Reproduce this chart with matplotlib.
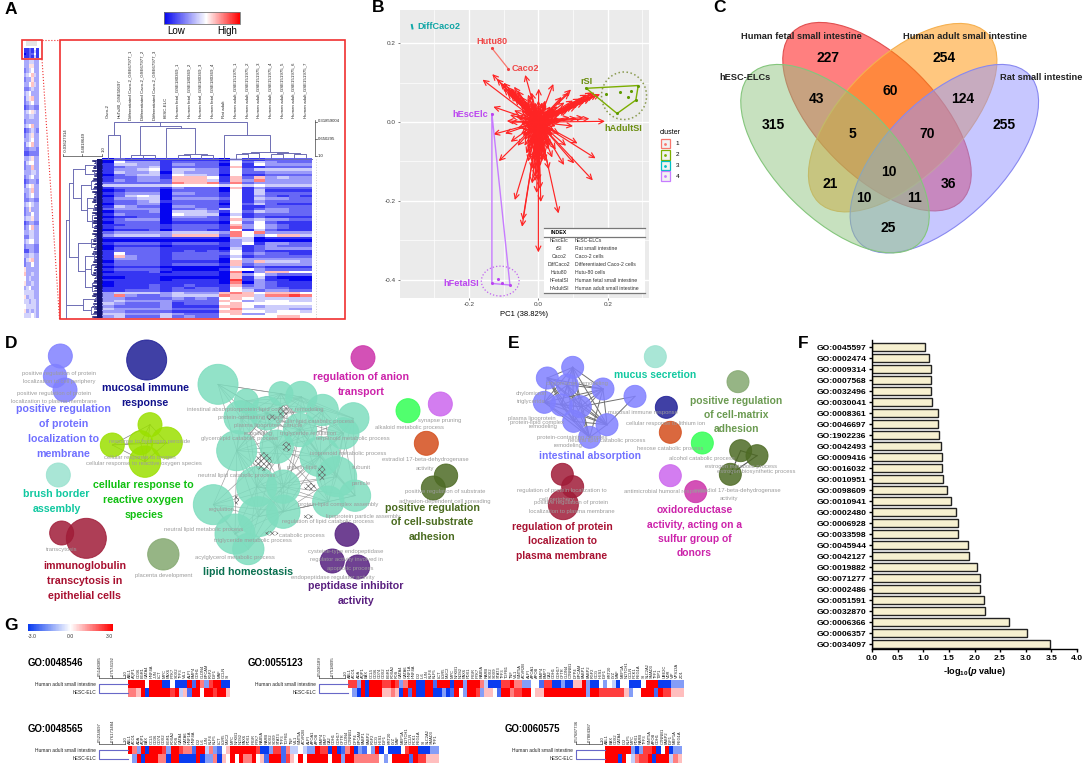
import itertools
import numpy as np
import matplotlib
matplotlib.use("Agg")
import matplotlib.pyplot as plt
from matplotlib.colors import LinearSegmentedColormap
from matplotlib.patches import Ellipse, Circle, Rectangle

plt.rcParams["font.family"] = ["Liberation Sans", "DejaVu Sans"]
plt.rcParams["mathtext.fontset"] = "custom"
plt.rcParams["mathtext.bf"] = "Liberation Sans:bold"
plt.rcParams["mathtext.it"] = "Liberation Sans:italic:bold"
plt.rcParams["hatch.linewidth"] = 0.45

# ------------------------------------------------ DATA
# Panel A: groups are CHDDD E FFFF R A A A AAAA ; 0 = low (blue), 5 = white, 9 = high (red)
a_columns = ["Caco-2", "HuTu80_GSE50697", "Differentiated Caco-2_GSE67977_1", "Differentiated Caco-2_GSE67977_2",
             "Differentiated Caco-2_GSE67977_3", "hESC-ELC", "Human fetal_GSE180369_1", "Human fetal_GSE180369_2",
             "Human fetal_GSE180369_3", "Human fetal_GSE180369_4", "Rat adult", "Human adult_GSE151975_1",
             "Human adult_GSE151975_2", "Human adult_GSE151975_3", "Human adult_GSE151975_4",
             "Human adult_GSE151975_5", "Human adult_GSE151975_6", "Human adult_GSE151975_7"]
a_rows = [
 "02111 1 1111 0 4 1 1 2222", "05333 1 2222 1 5 2 4 3222", "14433 1 3322 0 5 1 5 3333", "12334 1 2222 1 6 1 1 2222",
 "13345 1 4433 1 5 2 4 4444", "14334 0 4333 1 5 2 2 3333", "02344 1 5443 0 5 1 1 2222", "12233 1 6665 1 6 2 6 3433",
 "13233 2 6664 1 6 3 7 3333", "22222 2 7667 2 7 2 3 3333", "44444 4 5555 4 5 4 5 4444", "12222 1 3222 0 6 1 3 2222",
 "01222 0 2222 0 5 1 4 1111", "12333 0 3322 1 5 1 4 2222", "02454 0 2222 1 5 1 3 2121", "13344 0 3333 2 5 1 4 3322",
 "12234 1 2222 1 5 1 3 2222", "02233 0 2222 0 5 2 4 2111", "14322 0 3322 1 5 1 1 2222", "23333 0 2232 4 5 1 2 3322",
 "02223 0 4443 1 5 2 4 3322", "13222 0 5444 0 4 1 2 2222", "01122 0 3332 1 5 1 2 1111", "12333 0 2222 1 6 3 4 3322",
 "02222 0 1111 0 5 2 5 2111", "11222 1 2222 1 6 3 5 3211", "12222 1 2222 1 7 3 5 3211", "01112 0 2221 1 5 1 4 2111",
 "23333 3 4444 3 7 5 7 3333", "34444 3 6666 2 7 5 3 5664", "11111 1 1111 0 4 4 0 1111", "00000 0 0000 0 3 4 0 0000",
 "12222 1 2222 1 3 5 1 3322", "01111 0 1111 1 3 1 2 3222", "02222 1 1111 0 4 1 2 3333", "12222 1 1212 1 5 1 2 1111",
 "15222 1 2222 2 5 2 3 2211", "16322 1 2222 1 4 1 2 2222", "13322 1 2222 0 5 3 3 3333", "02222 1 1111 0 6 3 6 4443",
 "12222 1 2222 1 6 2 3 3333", "01111 0 0000 0 4 1 2 1111", "12222 1 0000 1 5 5 3 2222", "01112 0 1111 0 7 0 3 6655",
 "11111 1 1111 0 6 3 5 3222", "00111 0 0000 0 6 1 4 1000", "11111 0 1111 0 8 1 3 1100", "01111 1 1111 0 7 0 3 2111",
 "01112 1 1211 1 6 2 3 2111", "11112 1 2122 1 5 3 3 2211", "11222 1 2222 1 5 4 2 3322", "34444 3 4333 6 7 6 5 6665",
 "37322 3 4444 7 6 6 4 7787", "33222 2 3232 5 6 5 4 4444", "34333 3 2222 6 5 3 4 5544", "43222 3 1222 5 6 5 5 5555",
 "32222 3 1111 6 6 5 3 4444", "43333 3 2222 5 7 4 4 4433", "33222 2 1111 6 6 5 5 4554", "44333 4 3222 5 6 3 3 5555",
 "34222 4 2322 5 5 5 5 5665"]
a_thumb_top = ["112151", "112141", "012251", "112141"]
a_thumb = [
 "334433", "336633", "234533", "345743", "233633", "335743", "223433", "345333", "246733", "234533", "123322", "345643",
 "334433", "233333", "345733", "123432", "234633", "334533", "245733", "223332", "112222", "334633", "245533", "233733",
 "333443", "234533", "123332", "245633", "334733", "234533", "223322", "345433", "236333", "233533", "344633", "123322",
 "235733", "334433", "224433", "345533", "233322", "113322", "334433", "246733", "233533", "633333", "733433", "534333",
 "633433", "345333", "444433", "634433", "443443", "544443", "634343", "444543"]
a_top_merges = [(0, 1, 0.577), (3, 4, 0.985), (2, 19, 0.975), (6, 7, 0.985), (8, 9, 0.985), (21, 22, 0.96),
                (5, 23, 0.45), (20, 24, 0.404), (18, 25, 0.33), (11, 12, 0.955), (14, 15, 0.96), (16, 17, 0.97),
                (27, 13, 0.945), (28, 29, 0.945), (30, 31, 0.925), (10, 32, 0.589), (26, 33, 0.32)]
a_row_tree = (0.04,
    (0.13,
        (0.22,
            (0.55, (0.85, 0, 1, 2, 3), (0.8, 4, 5, 6)),
            (0.45, (0.7, (0.88, 7, 8, 9), (0.88, 10, 11, 12)),
                   (0.6, (0.85, 13, 14, 15, 16), (0.8, 17, 18, 19),
                    (0.75, (0.88, 20, 21, 22), (0.9, 23, 24, 25, 26, 27, 28))))),
        (0.35,
            (0.7, (0.85, 29, 30, 31), (0.85, 32, 33, 34)),
            (0.55, (0.8, 35, 36, 37, 38), (0.7, (0.88, 39, 40, 41), (0.85, 42, 43, 44, 45)),
                   (0.75, (0.88, 46, 47, 48), (0.9, 49, 50, 51))))),
    (0.5, (0.85, 52, 53, 54), (0.7, (0.8, 55, 56, 57), (0.88, 58, 59, 60))))

# Panel B
b_load_pc1 = [-.133, -.161, -.130, -.038, .001, .043, .094, .089, .067, .178, .162, .149, .130, .101, .147, .192, .165,
              .157, .103, .074, .113, .058, .007, .000, -.047, -.045, -.068, -.018, -.010, -.114, -.130, -.096, -.091,
              -.082, -.105, -.090, -.075, -.068, -.100, -.05, -.03, .020, .035, .055, .075, .11, .08, .06, .09, .07,
              .10, .06, .08, .05, .04, .03, .02, -.03, -.02, -.035, -.06, -.08, -.05, -.08, -.065, -.07, -.05, -.06,
              -.05, -.045, -.055, -.05, -.045, -.04, -.03, -.02, -.01, 0, .01, .02, .03, .04, .05, .055, .06, .05, .045,
              .04, .03, .025, .02, .015, .01, 0, -.01, -.015, -.02, -.025, -.03, -.035, -.04, -.03, -.03, -.02, -.01, 0,
              .01, .02, .03, .03, .02, .02, .01, 0, -.01, -.015, -.02, -.02, -.01, .01, .015, .01, 0, -.01, -.005, .005,
              -.008, .012, -.025, .025, .045, -.035, -.04, .035, -.03, .028, .015, -.015,
              -.09, -.085, -.08, -.075, -.07, -.065, -.06, -.055, -.05, -.045, -.04, -.035, -.06, -.07, -.08, -.09, -.1,
              -.11, -.12, -.03, -.02,
              .17, .16, .15, .14, .13, .12, .11, .10, .09, .085, .08, .07, .065, .10, .12, .14, .155, .06, .05, .11, .13,
              -.01, -.005, .0, .005, -.015, -.02, -.025, .01, .015, -.01, .0, .0, .005, -.005, .02, -.03, .03, .035,
              -.04, -.04,
              -.04, -.035, -.03, -.025, -.015, -.005, .005, .015, .025, .035, .04, .035, .03, .025, .015, .005, -.005,
              -.015, -.025, -.03, -.02, -.01, .005, .015, .01, 0, -.012, .02, -.005, .005, -.02, .02, -.045, .045, .05,
              -.05, .04, -.045, .03, -.03]
b_load_pc2 = [.122, .108, .039, .120, .085, .097, .083, .075, .064, .071, .075, .064, .058, .046, .009, .002, -.092,
              -.148, -.105, -.109, -.054, -.232, -.203, -.331, -.266, -.249, -.198, -.156, -.139, -.099, -.031, -.029,
              .003, .018, .095, .085, .070, .060, .100, .065, .06, .055, .040, .040, .050, .050, .035, .025, .012, .005,
              -.01, -.03, -.06, -.07, -.09, -.12, -.10, -.10, -.12, -.08, -.06, -.05, -.03, 0, .015, .03, .04, -.015,
              .03, .02, .01, -.005, -.02, .04, .045, .05, .05, .055, .05, .04, .03, .025, .02, .01, 0, -.01, -.02,
              -.035, -.04, -.05, -.06, -.07, -.08, -.085, -.08, -.07, -.06, -.05, -.04, -.03, -.01, 0, .02, .03, .03, .03,
              .03, .02, .01, -.01, -.02, -.035, -.04, -.05, -.05, -.035, -.02, .01, .015, .015, 0, -.015, -.025, -.02,
              -.065, -.07, -.09, -.095, .038, .028, .01, .012, .03, -.025, -.055, -.06, .045, .042,
              .09, .08, .085, .08, .075, .07, .065, .06, .055, .05, .055, .05, .08, .09, .07, .075, .085, .10, .11, .07,
              .075,
              .07, .068, .06, .06, .05, .05, .04, .04, .035, .03, .03, .03, .025, .055, .06, .07, .075, .02, .03, .01,
              .012,
              -.15, -.13, -.12, -.11, -.12, -.10, -.09, -.10, -.09, -.10, -.095, -.15, -.17, -.18, -.08, -.075, -.07,
              -.06, -.06, -.045,
              0, -.015, .01, .025, .02, .04, .04, .035, .02, .015, 0, -.01, -.02, -.03, -.05, -.055, -.06, -.055, -.03,
              -.02, -.005, .005, .005, -.005, -.025, -.035, -.03, .005, .02, .02, .045, .05, .045, .035, 0, 0, -.03,
              -.035, -.055, -.065]
b_xticks = [-0.2, 0.0, 0.2]
b_yticks = [0.2, 0.0, -0.2, -0.4]
b_samples = {"Hutu80": (-.134, .188), "Caco2": (-.087, .136), "hEscElc": (-.134, .021)}
b_fetal_x = [-.134, -.116, -.104, -.082]
b_fetal_y = [-.410, -.398, -.408, -.414]
b_adult_x = [.138, .195, .236, .266, .258, .288, .281, .227]
b_adult_y = [.086, .072, .076, .078, .064, .093, .056, .022]
b_diff_x = [-.365, -.363]
b_diff_y = [.247, .238]
b_index_short = ["hEscElc", "rSI", "Caco2", "DiffCaco2", "Hutu80", "hFetalSI", "hAdultSI"]
b_index_long = ["hESC-ELCs", "Rat small intestine", "Caco-2 cells", "Differentiated Caco-2 cells", "Hutu-80 cells",
                "Human fetal small intestine", "Human adult small intestine"]
b_clusters = ["1", "2", "3", "4"]

# Panel C
c_counts = ["227", "254", "315", "255", "43", "60", "124", "5", "70", "21", "10", "36", "10", "11", "25"]
c_sets = ["Human fetal small intestine", "Human adult small intestine", "hESC-ELCs", "Rat small intestine"]

# Panel F
f_terms = ["GO:0045597", "GO:0002474", "GO:0009314", "GO:0007568", "GO:0032496", "GO:0030041", "GO:0008361",
           "GO:0046697", "GO:1902236", "GO:0042493", "GO:0009416", "GO:0016032", "GO:0010951", "GO:0098609",
           "GO:0010941", "GO:0002480", "GO:0006928", "GO:0033598", "GO:0045944", "GO:0042127", "GO:0019882",
           "GO:0071277", "GO:0002486", "GO:0051591", "GO:0032870", "GO:0006366", "GO:0006357", "GO:0034097"]
f_values = [1.03, 1.12, 1.15, 1.16, 1.16, 1.175, 1.285, 1.29, 1.305, 1.35, 1.365, 1.365, 1.395, 1.47, 1.545, 1.63,
            1.67, 1.68, 1.875, 1.895, 2.04, 2.10, 2.11, 2.19, 2.21, 2.68, 3.02, 3.47]

# Panel G : 0 = -3 (blue), 4 = 0 (white), 8 = +3 (red)
g_genes = ["ABL1", "ACO1", "ADA", "AQP1", "BAX", "CCL5", "CD36", "CD74", "CDX2", "EGR1", "FOXA2", "FOS", "GATA4", "GATA6",
           "HNF1A", "HNF4A", "ID2", "IL6", "JUN", "KLF4", "KLF5", "LCT", "LGR5", "MUC2", "MYC", "NFKB1", "NOS2", "PAX6",
           "PDX1", "PIGR", "PTK7", "RAB5A", "RARB", "SOX2", "SOX9", "STAT3", "TFF3", "TGFB1", "TNF", "VIL1", "WNT5A",
           "ACVR2B", "ALPI", "APOA1", "APOB", "BMP4", "BMP7", "CA2", "CDH1", "CDH17", "CFTR", "CLDN4", "CTNNB1", "DPP4",
           "EPCAM", "FABP1", "FABP2", "FGF2", "GCG", "HES1", "IGF1", "KRT20", "LYZ", "MAF", "MEP1A", "NOTCH1", "OCLN",
           "PCK1", "REG1A", "SI", "SLC2A2", "SMAD3", "TFF1", "TJP1", "UBE2C", "VDR", "VIP", "VPS13A", "ZO1"]
g_titles = ["GO:0048546", "GO:0055123", "GO:0048565", "GO:0060575"]
g_scale1 = ["0.5148385", "0.5036189", "0.5234697", "0.57687736"]
g_scale2 = ["0.7574192", "0.7518095", "0.76173484", "0.7884387"]
g_adult_1 = "888848880040008186278800"
g_esc_1 = "665808888878351884887885"
g_adult_2 = "772808887787268800881888" + "0882888" + "63" + "000778662244" + "177002005582004243044000488800" + "0222"
g_esc_2 = "420808885565081800880020" + "1842887" + "2554" + "1886778845588888888882887777775244" + "8881877555"
g_adult_3 = "86280888728876618836214588888870027716334" + "32287708016802142804000478800022"
g_esc_3 = "42808886608800008022605484866845188817" + "54848888848828866666642488881877" + "5555"
g_adult_4 = "888888202778048022"
g_esc_4 = "888084367780888365"
g_series = [(g_adult_1, g_esc_1), (g_adult_2[:79], g_esc_2[:79]), (g_adult_3[:73], g_esc_3[:73]), (g_adult_4, g_esc_4)]
g_samples = ["Human adult small intestine", "hESC-ELC"]

# ------------------------------------------------ FIGURE
fig = plt.figure(figsize=(10.84, 7.64), dpi=100)
ax = fig.add_axes([0, 0, 1, 1], zorder=0)
ax.set_xlim(0, 1084)
ax.set_ylim(764, 0)
ax.axis("off")


def label(x, y, s, size=6, weight="normal", color="black", ha="center", va="center", rot=0, z=20):
    ax.text(x, y, s, fontsize=size, fontweight=weight, color=color, ha=ha, va=va, rotation=rot, zorder=z)


def image(arr, cmap, x0, x1, y0, y1, vmin, vmax, z=2):
    ax.imshow(arr, cmap=cmap, extent=(x0, x1, y1, y0), aspect="auto", interpolation="nearest", vmin=vmin, vmax=vmax,
              zorder=z)
    ax.set_xlim(0, 1084)
    ax.set_ylim(764, 0)


for letter, lx, ly in [("A", 11, 9), ("B", 378, 8), ("C", 719, 8), ("D", 11, 344), ("E", 514, 344), ("F", 803, 344),
                       ("G", 11, 625)]:
    label(lx, ly, letter, size=12.5, weight="bold")

# ------------------------------------------------ A
cmapA = LinearSegmentedColormap.from_list("a", [(0, "#0505F0"), (5 / 9, "#FFFFFF"), (1, "#FF0000")])
cmapT = LinearSegmentedColormap.from_list("t", [(0, "#2A2AF5"), (5 / 9, "#FFFFFF"), (1, "#FF8A8A")])
grid = np.array([[int(ch) for ch in r.replace(" ", "")] for r in a_rows])
hx0, hx1, hy0, hy1 = 102.3, 311.7, 159.3, 318.3
image(grid, cmapA, hx0, hx1, hy0, hy1, 0, 9)
image(np.linspace(0, 9, 200)[None, :], cmapA, 164, 240, 12, 24, 0, 9)
ax.add_patch(Rectangle((164, 12), 76, 12, fill=False, ec="#777777", lw=0.6, zorder=3))
label(176, 31.5, "Low", size=7)
label(227, 31.5, "High", size=7)
image(np.array([[int(c) for c in r] for r in a_thumb_top]), cmapA, 24, 39, 48, 58, 0, 9)
image(np.array([[int(c) for c in r] for r in a_thumb]), cmapT, 24, 39, 59, 318, 0, 9)
ax.add_patch(Rectangle((26, 41), 11, 5, fc="#E4E4E4", ec="none", zorder=2))
ax.add_patch(Rectangle((22.3, 40), 19.5, 19.3, fill=False, ec="#F03030", lw=1.2, zorder=5))
ax.add_patch(Rectangle((59.5, 40), 285.5, 279, fill=False, ec="#F03030", lw=1.2, zorder=5))
ax.plot([42, 59.5], [40, 40], color="#F03030", lw=0.8, ls=":", zorder=4)
ax.plot([42, 59.5], [59.3, 319], color="#F03030", lw=0.8, ls=":", zorder=4)
DENDRO = "#6E6EB4"
col_w = (hx1 - hx0) / 18
cx = [hx0 + (i + 0.5) * col_w for i in range(18)]
top_y = lambda h: 156 - (1 - h) / 0.6814 * 34.3
for i, name in enumerate(a_columns):
    base = 119.5 if name.startswith("Diff") else 117.5
    label(cx[i] - 0.6, base, name, size=3.15, rot=90, va="bottom", color="#222222")
nodes = {i: (cx[i], 1.0) for i in range(18)}
for k, (a, b, h) in enumerate(a_top_merges):
    xa, ha_ = nodes[a]
    xb, hb_ = nodes[b]
    ya = 159.3 if ha_ == 1.0 else top_y(ha_)
    yb = 159.3 if hb_ == 1.0 else top_y(hb_)
    ax.plot([xa, xa, xb, xb], [ya, top_y(h), top_y(h), yb], color=DENDRO, lw=0.7, zorder=3)
    nodes[18 + k] = ((xa + xb) / 2, h)
ax.plot([hx0, hx1], [159, 159], color=DENDRO, lw=0.7, zorder=3)

row_h = (hy1 - hy0) / len(a_rows)
row_x = lambda r: 63.3 + (r + 0.03627914) / 1.03627914 * 38.4


def draw_tree(node):
    r = node[0]
    ys = []
    for child in node[1:]:
        if isinstance(child, tuple):
            y = draw_tree(child)
            ax.plot([row_x(r), row_x(child[0])], [y, y], color=DENDRO, lw=0.7, zorder=3)
        else:
            y = hy0 + (child + 0.5) * row_h
            ax.plot([row_x(r), 94], [y, y], color=DENDRO, lw=0.7, zorder=3)
            ax.plot([92.5 + (child * 7 % 4), hx0], [y, y], color="#10106E", lw=1.1, zorder=3)
        ys.append(y)
    ax.plot([row_x(r)] * 2, [min(ys), max(ys)], color=DENDRO, lw=0.7, zorder=3)
    return (min(ys) + max(ys)) / 2


root_y = draw_tree(a_row_tree)
ax.plot([row_x(a_row_tree[0])] * 2, [root_y, 318], color=DENDRO, lw=0.7, zorder=3)
ax.add_patch(Rectangle((96.5, hy0), 5.8, hy1 - hy0, fc="#10106E", ec="none", zorder=3))
# distance scales
ax.plot([315, 315], [120, 156], color="#444444", lw=0.5)
for yy, s in [(121.5, "0.31859004"), (139, "0.650295"), (156, "1.0")]:
    ax.plot([315, 317], [yy, yy], color="#444444", lw=0.5)
    label(318, yy, s, size=3.1, ha="left", color="#222222")
ax.plot([63.3, 101.7], [156, 156], color="#444444", lw=0.5)
for xx, s in [(63.3, "-0.03627914"), (81.7, "0.4818649"), (101.7, "1.0")]:
    ax.plot([xx, xx], [154, 156], color="#444444", lw=0.5)
    label(xx + 2.4, 152.5, s, size=3.1, rot=90, va="bottom", color="#222222")
ax.plot([316, 316], [159, 318], color="#CCCCCC", lw=0.7, ls=":")

# ------------------------------------------------ B
axb = fig.add_axes([400 / 1084, 1 - 298 / 764, 249 / 1084, 288 / 764], zorder=1)
axb.set_facecolor("#EBEBEB")
axb.set_xlim(-0.399, 0.319)
axb.set_ylim(-0.447, 0.285)
axb.set_xticks(b_xticks)
axb.set_xticklabels(["-0.2", "0.0", "0.2"])
axb.set_yticks(b_yticks)
axb.set_yticklabels(["0.2", "0.0", "-0.2", "-0.4"])
axb.set_xticks([-0.3, -0.1, 0.1, 0.3], minor=True)
axb.set_yticks([0.1, -0.1, -0.3], minor=True)
axb.grid(True, which="major", color="white", lw=1.0)
axb.grid(True, which="minor", color="white", lw=0.5)
axb.tick_params(which="minor", length=0)
axb.tick_params(which="major", labelsize=4.6, length=1.5, width=0.5, colors="#444444", pad=1.5)
for sp in axb.spines.values():
    sp.set_visible(False)
axb.set_axisbelow(True)
axb.set_xlabel("PC1 (38.82%)", fontsize=5.5, labelpad=2.5)
CRED, CGRN, CTEA, CPUR = "#F8766D", "#7CAE00", "#00BFC4", "#C77CFF"
for x, y in zip(b_load_pc1, b_load_pc2):
    axb.annotate("", xy=(x, y), xytext=(0, 0), arrowprops=dict(arrowstyle="->", color="#FF2424", lw=0.85,
                 mutation_scale=9, shrinkA=0, shrinkB=0), zorder=4)
hutu, caco, esc = b_samples["Hutu80"], b_samples["Caco2"], b_samples["hEscElc"]
axb.plot([hutu[0], caco[0]], [hutu[1], caco[1]], color=CRED, lw=0.9, zorder=5)
axb.scatter([hutu[0], caco[0]], [hutu[1], caco[1]], s=5, color="#F04040", lw=0, zorder=6)
axb.plot([esc[0], b_fetal_x[0], b_fetal_x[3], esc[0]], [esc[1], b_fetal_y[0], b_fetal_y[3], esc[1]], color=CPUR, lw=1.0,
         zorder=5)
axb.scatter(b_fetal_x + [esc[0]], b_fetal_y + [esc[1]], s=5, color="#BB44F0", lw=0, zorder=6)
hull = [0, 5, 6, 7, 0]
axb.plot([b_adult_x[i] for i in hull], [b_adult_y[i] for i in hull], color=CGRN, lw=1.0, zorder=5)
axb.scatter(b_adult_x, b_adult_y, s=5, color="#5F9A00", lw=0, zorder=6)
axb.plot(b_diff_x, b_diff_y, color="#10A8A8", lw=1.4, zorder=5)
axb.add_patch(Ellipse((-.110, -.404), .109, .076, fill=False, ec="#C060F0", lw=0.9, ls=":", zorder=5))
axb.add_patch(Ellipse((.247, .067), .130, .121, fill=False, ec="#8A9A50", lw=1.1, ls=":", zorder=5))
for s, x, y, c in [("Hutu80", -.134, .205, "#F04848"), ("Caco2", -.037, .136, "#F04848"), ("DiffCaco2", -.287, .243, "#10A5A5"),
                   ("hEscElc", -.195, .020, "#BB44F0"), ("rSI", .139, .103, "#6B8E10"), ("hAdultSI", .245, -.015, "#6B8E10"),
                   ("hFetalSI", -.224, -.410, "#BB44F0")]:
    axb.text(x, y, s, fontsize=6.6, fontweight="bold", color=c, ha="center", va="center", zorder=7)
# index table
to_x = lambda z: (z - 505) / 1040
to_y = lambda z: (366 - z) / 1180
axb.add_patch(Rectangle((to_x(523), to_y(880)), to_x(825) - to_x(523), to_y(685) - to_y(880), fc="white", ec="none", zorder=7))
for zy in (685, 710, 877):
    axb.plot([to_x(523), to_x(825)], [to_y(zy)] * 2, color="#777777", lw=0.9, zorder=8)
axb.text(to_x(567), to_y(698), "INDEX", fontsize=3.8, fontweight="bold", ha="center", va="center", zorder=9)
for i, (sh, lo) in enumerate(zip(b_index_short, b_index_long)):
    yy = to_y(722 + i * 23.8)
    axb.text(to_x(567), yy, sh, fontsize=3.7, ha="center", va="center", color="#333333", zorder=9)
    axb.text(to_x(615), yy, lo, fontsize=3.7, ha="left", va="center", color="#333333", zorder=9)
# cluster key
label(660, 132, "cluster", size=5, ha="left")
for name, c, yy in zip(b_clusters, [CRED, CGRN, CTEA, CPUR], [143.6, 155, 165.7, 176]):
    ax.add_patch(Rectangle((660.5, yy - 4.8), 9.6, 9.6, fc="#F2F2F2", ec=c, lw=0.9))
    ax.scatter([665.3], [yy], s=4, color=c, lw=0)
    label(675.7, yy, name, size=4.6, ha="left")

# ------------------------------------------------ C
vx = lambda z: 690 + z / 3
vy = lambda z: z / 3
w_long, w_short = 2 * 358 / 3, 2 * 178 / 3
venn = [(561, 350, 45, "#FF0101", "#E05050"), (638, 353, -45, "#FF9101", "#F5B050"),
        (763, 476, -45, "#9191FF", "#8888F0"), (435, 476, 45, "#91C581", "#84C67C")]
for i, (zx, zy, ang, fc, ec) in enumerate(venn):
    ax.add_patch(Ellipse((vx(zx), vy(zy)), w_long, w_short, angle=ang, fc=fc, ec="none", alpha=0.5, zorder=2 + i * 0.1))
    ax.add_patch(Ellipse((vx(zx), vy(zy)), w_long, w_short, angle=ang, fill=False, ec=ec, lw=0.8, zorder=2.05 + i * 0.1))
for s, zx, zy in zip(c_counts, [415, 763, 249, 943, 380, 600, 817, 486, 710, 421, 597, 775, 522, 672, 596],
                     [175, 175, 376, 376, 298, 273, 298, 403, 403, 551, 516, 551, 594, 594, 683]):
    label(vx(zx), vy(zy), s, size=10, weight="bold")
for s, zx, zy in zip(c_sets, [333, 826, 166, 1053], [110, 110, 232, 232]):
    label(vx(zx), vy(zy), s, size=6.7, weight="bold", color="#222222")

# ------------------------------------------------ D / E bubbles
TERM = "#9C9C9C"


def bubbles(ox, oy, items, color, z=5, alpha=0.85):
    for zx, zy, r in items:
        ax.add_patch(Circle((ox + zx / 3, oy + zy / 3), r / 3, fc=color, ec=color, lw=0.7, alpha=alpha, zorder=z))


def edges(ox, oy, items, color, lw, alpha=1.0, z=4, reach=1e9):
    for (a, b) in itertools.combinations(items, 2):
        if np.hypot(a[0] - b[0], a[1] - b[1]) <= reach:
            ax.plot([ox + a[0] / 3, ox + b[0] / 3], [oy + a[1] / 3, oy + b[1] / 3], color=color, lw=lw, alpha=alpha, zorder=z)


def group_label(ox, oy, zx, zys, lines, color, size=7.7):
    for zy, s in zip(zys, lines):
        label(ox + zx / 3, oy + zy / 3, s, size=size, weight="bold", color=color)


def terms(ox, oy, items):
    for zx, zy, s in items:
        label(ox + zx / 3, oy + zy / 3, s, size=4.2, color=TERM, z=15)


d_lipid = [(654, 163, 60), (739, 213, 36), (843, 191, 36), (904, 201, 47), (968, 240, 47), (1060, 265, 47), (1030, 310, 47),
           (722, 262, 50), (800, 250, 50), (710, 362, 60), (640, 524, 60), (705, 612, 60), (745, 657, 47), (775, 560, 60),
           (850, 545, 50), (770, 470, 60), (850, 470, 50), (1010, 440, 60), (1065, 497, 47), (985, 515, 47), (960, 380, 60),
           (830, 350, 50), (900, 300, 50)]
edges(0, 330, d_lipid, "#808080", 0.45, alpha=0.8, reach=260)
bubbles(0, 330, d_lipid, "#7FDDBF", alpha=0.85)
for zx, zy, w, h in [(850, 245, 32, 36), (815, 262, 30, 18), (790, 395, 50, 56), (860, 350, 26, 30), (965, 430, 24, 48),
                     (930, 470, 36, 24), (710, 510, 14, 30), (925, 560, 30, 14), (815, 610, 40, 14)]:
    ax.add_patch(Ellipse((zx / 3, 330 + zy / 3), w / 3, h / 3, fill=False, ec="#666666", lw=0, hatch="xxxxxx", zorder=6))
bubbles(0, 330, [(181, 78, 36), (165, 138, 35), (195, 180, 36)], "#8080FF")
bubbles(0, 330, [(440, 90, 60)], "#1E1E96")
lime = [(450, 284, 36), (422, 338, 36), (500, 338, 47), (337, 345, 36), (435, 395, 47)]
edges(0, 330, lime, "#808080", 0.5)
bubbles(0, 330, lime, "#9BE000")
bubbles(0, 330, [(175, 435, 36)], "#9AE2CF")
bubbles(0, 330, [(185, 609, 36), (259, 625, 60)], "#A01C38")
bubbles(0, 330, [(490, 673, 47)], "#84A870")
bubbles(0, 330, [(1089, 83, 36)], "#CC33AA")
bubbles(0, 330, [(1224, 242, 36)], "#33FF55")
bubbles(0, 330, [(1321, 222, 36)], "#CC66EE")
bubbles(0, 330, [(1279, 340, 36)], "#D44E1C")
bubbles(0, 330, [(1338, 437, 35), (1300, 474, 36)], "#4E6B25")
bubbles(0, 330, [(1041, 613, 36), (997, 693, 36), (1073, 711, 36)], "#56207F")

terms(0, 330, [(178, 129, "positive regulation of protein"), (178, 156, "localization to cell periphery"),
               (162, 189, "positive regulation of protein"), (162, 215, "localization to plasma membrane"),
               (640, 237, "intestinal absorption"), (843, 239, "protein-lipid complex remodeling"),
               (760, 263, "protein-containing complex"), (945, 274, "cellular lipid catabolic process"),
               (805, 285, "plasma lipoprotein particle"), (775, 310, "remodeling"), (925, 310, "triglyceride regulation"),
               (1060, 325, "terpenoid metabolic process"), (718, 325, "glycerolipid catabolic process"),
               (1228, 291, "alkaloid metabolic process"), (1320, 272, "synapse pruning"),
               (1276, 390, "estradiol 17-beta-dehydrogenase"), (1276, 416, "activity"),
               (1045, 370, "isoprenoid metabolic process"), (420, 382, "cellular response to oxygen"),
               (433, 399, "cellular response to reactive oxygen species"), (450, 334, "response to hydrogen peroxide"),
               (710, 437, "neutral lipid catabolic process"), (905, 412, "protein-lipid"), (1085, 412, "subunit"),
               (1085, 462, "particle"), (1015, 524, "protein-lipid complex assembly"), (665, 539, "regulation"),
               (1090, 560, "lipoprotein particle assembly"), (985, 575, "regulation of lipid catabolic process"),
               (610, 598, "neutral lipid metabolic process"), (760, 632, "triglyceride metabolic process"),
               (905, 615, "catabolic process"), (706, 684, "acylglycerol metabolic process"), (185, 659, "transcytosis"),
               (490, 735, "placenta development"), (1038, 663, "cysteine-type endopeptidase"),
               (1038, 689, "regulator activity involved in"), (1050, 716, "apoptotic process"),
               (998, 742, "endopeptidase regulator activity"), (1335, 486, "positive regulation of substrate"),
               (1335, 513, "adhesion-dependent cell spreading")])
group_label(0, 330, 190, [238, 282, 326, 371], ["positive regulation", "of protein", "localization to", "membrane"], "#7070FF")
group_label(0, 330, 436, [173, 218], ["mucosal immune", "response"], "#10108C")
group_label(0, 330, 170, [492, 537], ["brush border", "assembly"], "#10C8A0")
group_label(0, 330, 431, [466, 511, 556], ["cellular response to", "reactive oxygen", "species"], "#10C010")
group_label(0, 330, 254, [708, 752, 797], ["immunoglobulin", "transcytosis in", "epithelial cells"], "#A81030")
group_label(0, 330, 745, [727], ["lipid homeostasis"], "#0A7050")
group_label(0, 330, 1084, [141, 186], ["regulation of anion", "transport"], "#CC22AA")
group_label(0, 330, 1296, [533, 577, 622], ["positive regulation", "of cell-substrate", "adhesion"], "#4A6B20")
group_label(0, 330, 1068, [769, 814], ["peptidase inhibitor", "activity"], "#5A2080")

e_purple = [(218, 112, 33), (142, 144, 33), (202, 165, 33), (309, 177, 33), (133, 217, 33), (184, 225, 33), (241, 230, 33),
            (221, 274, 33), (321, 284, 33), (269, 322, 33), (405, 199, 33)]
edges(500, 330, e_purple[:10], "#707070", 0.7)
edges(500, 330, [e_purple[8], e_purple[10]], "#707070", 0.7)
edges(500, 330, [e_purple[6], e_purple[10]], "#707070", 0.7)
bubbles(500, 330, e_purple, "#8080FF", alpha=0.85)
bubbles(500, 330, [(466, 80, 33)], "#9AE2CF")
bubbles(500, 330, [(714, 155, 33)], "#84A870")
bubbles(500, 330, [(499, 232, 33)], "#1E1E96")
bubbles(500, 330, [(511, 307, 33)], "#D44E1C")
bubbles(500, 330, [(607, 339, 33)], "#33FF55")
e_olive = [(722, 362, 33), (771, 377, 33), (691, 433, 33)]
edges(500, 330, e_olive, "#555555", 0.8)
bubbles(500, 330, e_olive, "#4E6B25")
bubbles(500, 330, [(511, 437, 33)], "#CC66EE")
bubbles(500, 330, [(587, 485, 33)], "#CC33AA")
bubbles(500, 330, [(187, 433, 33), (218, 470, 33), (190, 524, 45)], "#A01C38")
terms(500, 330, [(230, 160, "chylomicron remodeling"), (95, 191, "chylomicron"), (95, 213, "triglyceride"),
                 (95, 265, "plasma lipoprotein"), (110, 278, "protein-lipid complex"), (130, 290, "remodeling"),
                 (218, 322, "protein-containing complex"), (205, 347, "remodeling"), (320, 332, "neutral lipid catabolic process"),
                 (430, 247, "mucosal immune response"), (498, 280, "cellular response to lithium ion"),
                 (510, 355, "hexose catabolic process"), (607, 386, "alcohol catabolic process"),
                 (722, 410, "estrogen metabolic process"), (770, 425, "estrogen biosynthetic process"),
                 (495, 486, "antimicrobial humoral response"), (712, 481, "estradiol 17-beta-dehydrogenase"),
                 (688, 506, "activity"), (184, 481, "regulation of protein localization to"), (170, 507, "cell periphery"),
                 (213, 518, "positive regulation of protein"), (214, 543, "localization to plasma membrane")])
E_SIZE = 7.4
group_label(500, 330, 466, [136], ["mucus secretion"], "#10C8A0", size=E_SIZE)
group_label(500, 330, 709, [212, 254, 296], ["positive regulation", "of cell-matrix", "adhesion"], "#6A9A50", size=E_SIZE)
group_label(500, 330, 269, [379], ["intestinal absorption"], "#7070FF", size=E_SIZE)
group_label(500, 330, 186, [592, 634, 677], ["regulation of protein", "localization to", "plasma membrane"], "#A81030", size=E_SIZE)
group_label(500, 330, 583, [541, 584, 627, 669], ["oxidoreductase", "activity, acting on a", "sulfur group of", "donors"], "#CC22AA", size=E_SIZE)

# ------------------------------------------------ F
axf = fig.add_axes([872 / 1084, 1 - 649.3 / 764, 205 / 1084, 309.3 / 764], zorder=1)
axf.patch.set_alpha(0)
pos = np.arange(len(f_terms))
axf.barh(pos, f_values, height=0.72, color="#F6F0D0", edgecolor="#222222", linewidth=1.0)
axf.set_ylim(len(f_terms) - 1 + 0.48, -0.65)
axf.set_xlim(0, 4)
axf.set_yticks(pos)
axf.set_yticklabels(f_terms)
axf.set_xticks(np.arange(0, 4.5, 0.5))
axf.tick_params(axis="both", labelsize=6.1, width=1, length=2.5, pad=1.5)
for t in axf.get_xticklabels() + axf.get_yticklabels():
    t.set_fontweight("bold")
for sp in ("top", "right"):
    axf.spines[sp].set_visible(False)
for sp in ("left", "bottom"):
    axf.spines[sp].set_linewidth(1.0)
axf.set_xlabel(r"-log$_{\mathbf{10}}$($\mathit{p}$ value)", fontsize=6.6, fontweight="bold", labelpad=2)

# ------------------------------------------------ G
cmapG = LinearSegmentedColormap.from_list("g", ["#0A3CF0", "#FFFFFF", "#FF0000"])
image(np.linspace(0, 8, 200)[None, :], cmapG, 28, 113, 624, 631, 0, 8)
for s, xx in [("-3.0", 32), ("0.0", 70), ("3.0", 109)]:
    label(xx, 636, s, size=3.7, color="#333333")
g_layout = [(128, 0, 55, 663), (348, 0, 275, 663), (128, 66, 55, 729), (605, 66, 532, 729)]
for idx, (xh, dy, tx, ty) in enumerate(g_layout):
    top, bot = g_series[idx]
    n = len(top)
    vals = np.array([[int(c) for c in top], [int(c) for c in bot]])
    xe = xh + n * 4.25
    image(vals, cmapG, xh, xe, 680 + dy, 697 + dy, 0, 8)
    label(tx, ty, g_titles[idx], size=6.9, weight="bold")
    if idx == 0:
        names = g_genes[::3][:24]
    elif idx == 3:
        names = g_genes[::4][:18]
    else:
        names = g_genes[:n]
    for i, g in enumerate(names):
        label(xh + (i + 0.5) * 4.25, 678.5 + dy, g, size=2.9, rot=90, va="bottom", color="#222222")
    xl = xh - 29
    label(xl - 3, 684.5 + dy, g_samples[0], size=3.5, ha="right", color="#222222")
    label(xl - 3, 693 + dy, g_samples[1], size=3.5, ha="right", color="#222222")
    ax.plot([xh, xl, xl, xh], [683.5 + dy, 683.5 + dy, 693 + dy, 693 + dy], color="#6868C8", lw=0.8, zorder=3)
    ax.plot([xl, xh - 3], [678 + dy, 678 + dy], color="#444444", lw=0.5)
    for xx, s in zip([xl, (xl + xh - 3) / 2, xh - 3], [g_scale1[idx], g_scale2[idx], "1.0"]):
        ax.plot([xx, xx], [676.3 + dy, 678 + dy], color="#444444", lw=0.5)
        label(xx + 0.5, 675.5 + dy, s, size=3.1, rot=90, va="bottom", color="#222222")

fig.savefig("out.png", dpi=100)
